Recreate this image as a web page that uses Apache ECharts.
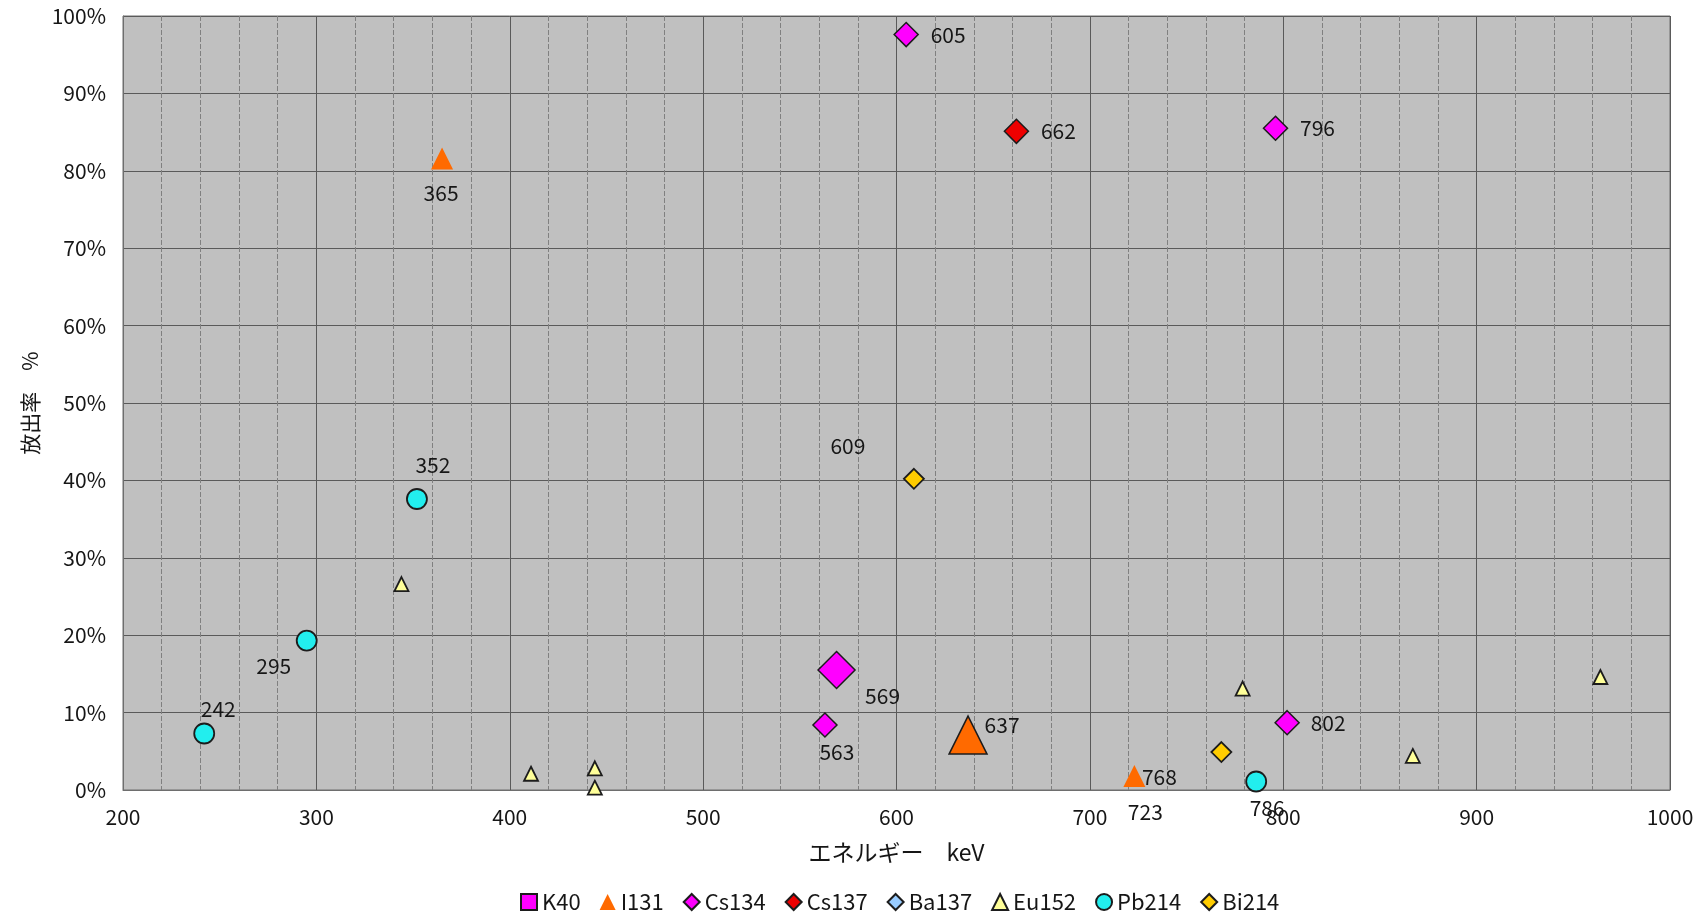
<!DOCTYPE html>
<html>
<head>
<meta charset="utf-8">
<script src="https://cdn.jsdelivr.net/npm/echarts@6/dist/echarts.min.js"></script>
<style>
  html, body { margin: 0; padding: 0; background: #fff; }
  #chart { width: 1707px; height: 919px; }
</style>
</head>
<body>
<div id="chart"></div>
<script>
// Gamma-ray lines: energy (keV) and emission probability (%)
const k40Energy   = [];
const k40Yield    = [];
const i131Energy  = [365, 637, 723];
const i131Yield   = [81.6, 7.1, 1.8];
const cs134Energy = [563, 569, 605, 796, 802];
const cs134Yield  = [8.4, 15.5, 97.6, 85.5, 8.7];
const cs137Energy = [662];
const cs137Yield  = [85.1];
const ba137Energy = [662];
const ba137Yield  = [85.1];
const eu152Energy = [344, 411, 444, 444, 779, 867, 964];
const eu152Yield  = [26.6, 2.1, 2.8, 0.3, 13.1, 4.4, 14.6];
const pb214Energy = [242, 295, 352, 786];
const pb214Yield  = [7.3, 19.3, 37.6, 1.1];
const bi214Energy = [609, 768];
const bi214Yield  = [40.2, 4.9];

const xTicks = [200, 300, 400, 500, 600, 700, 800, 900, 1000];
const yTicks = [0, 10, 20, 30, 40, 50, 60, 70, 80, 90, 100];

// Where each energy label sits relative to its marker (px)
const labelOffset = {
  'I131:365': [-1, 35], 'I131:637': [34, -10], 'I131:723': [11, 36],
  'Cs134:563': [12, 27], 'Cs134:569': [46, 26], 'Cs134:605': [42, 0],
  'Cs134:796': [42, 0], 'Cs134:802': [41, 0],
  'Cs137:662': [42, 0],
  'Pb214:242': [14, -24], 'Pb214:295': [-33, 25], 'Pb214:352': [16, -34], 'Pb214:786': [11, 27],
  'Bi214:609': [-66, -33], 'Bi214:768': [-62, 25]
};
// Enlarged markers
const bigMarker = { 'Cs134:569': 37, 'I131:637': 38 };

const FONT = '"Noto Sans CJK JP", "Liberation Sans", sans-serif';
const EDGE = '#1c1c1c';
const INK = '#161616';

function points(name, energies, yields) {
  return energies.map((e, i) => {
    const key = name + ':' + e;
    const item = { value: [e, yields[i]] };
    if (labelOffset[key]) {
      item.label = {
        show: true, position: 'inside', offset: labelOffset[key],
        formatter: String(e), color: INK, fontSize: 21, fontFamily: FONT
      };
    }
    if (bigMarker[key]) {
      item.symbolSize = bigMarker[key];
      item.itemStyle = { borderColor: EDGE, borderWidth: 1.5 };
    }
    return item;
  });
}

function scatter(name, energies, yields, symbol, size, color, border, z) {
  return {
    name, type: 'scatter', symbol, symbolSize: size, z: z || 2,
    itemStyle: { color, borderColor: EDGE, borderWidth: border, opacity: 1 },
    label: { show: false },
    emphasis: { disabled: true },
    data: points(name, energies, yields)
  };
}

const chart = echarts.init(document.getElementById('chart'), null, { renderer: 'canvas' });
chart.setOption({
  animation: false,
  textStyle: { fontFamily: FONT },
  grid: {
    left: 123, right: 37, top: 16, bottom: 129,
    show: true, backgroundColor: '#c0c0c0', borderColor: '#6e6e6e', borderWidth: 1
  },
  legend: {
    bottom: 1, left: 515,
    itemWidth: 16, itemHeight: 16, itemGap: 19,
    textStyle: { fontSize: 22, color: INK, fontFamily: FONT },
    data: ['K40', 'I131', 'Cs134', 'Cs137', 'Ba137', 'Eu152', 'Pb214', 'Bi214']
  },
  xAxis: {
    type: 'value', min: xTicks[0], max: xTicks[xTicks.length - 1], interval: 100,
    name: 'エネルギー　keV', nameLocation: 'middle', nameGap: 51,
    nameTextStyle: { fontSize: 23, color: INK, fontFamily: FONT },
    axisLine: { show: true, lineStyle: { color: '#6e6e6e' } },
    axisTick: { show: false },
    axisLabel: { fontSize: 21, color: INK, margin: 17, fontFamily: FONT, formatter: v => String(v) },
    splitLine: { show: true, lineStyle: { color: '#5a5a5a', width: 1 } },
    minorTick: { show: false, splitNumber: 5 },
    minorSplitLine: { show: true, lineStyle: { color: '#808080', width: 1, type: [5, 2] } }
  },
  yAxis: {
    type: 'value', min: yTicks[0], max: yTicks[yTicks.length - 1], interval: 10,
    name: '放出率　%', nameLocation: 'middle', nameGap: 78, nameRotate: 90,
    nameTextStyle: { fontSize: 21, color: INK, fontFamily: FONT },
    axisLine: { show: true, lineStyle: { color: '#6e6e6e' } },
    axisTick: { show: false },
    axisLabel: { fontSize: 21, color: INK, margin: 17, formatter: '{value}%', fontFamily: FONT },
    splitLine: { show: true, lineStyle: { color: '#5a5a5a', width: 1 } }
  },
  series: [
    scatter('K40', k40Energy, k40Yield, 'rect', 15, '#ff00ff', 1.5, 3),
    scatter('I131', i131Energy, i131Yield, 'triangle', 22, '#ff6a00', 0, 3),
    scatter('Cs134', cs134Energy, cs134Yield, 'diamond', 24, '#ff00ff', 1.5, 3),
    scatter('Cs137', cs137Energy, cs137Yield, 'diamond', 24, '#ee0000', 1.5, 4),
    scatter('Ba137', ba137Energy, ba137Yield, 'diamond', 11, '#99ccff', 1, 2),
    scatter('Eu152', eu152Energy, eu152Yield, 'triangle', 14, '#ffff99', 1.8, 3),
    scatter('Pb214', pb214Energy, pb214Yield, 'circle', 20, '#22eeee', 1.8, 3),
    scatter('Bi214', bi214Energy, bi214Yield, 'diamond', 20, '#ffcc00', 1.8, 3)
  ]
});
</script>
</body>
</html>
